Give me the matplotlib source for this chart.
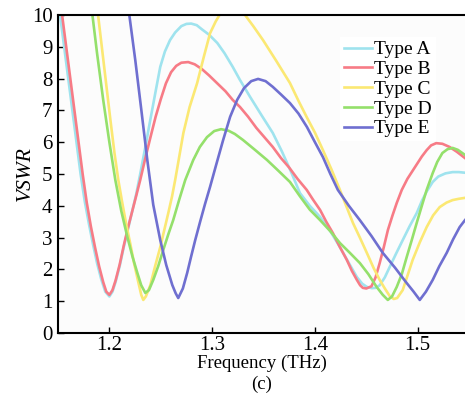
import numpy as np
import matplotlib.pyplot as plt
import matplotlib as mpl

mpl.rcParams['font.family'] = 'Liberation Serif'
mpl.rcParams['mathtext.fontset'] = 'stix'

# VSWR curves for the five antenna types (frequency in THz)
f_a = [1.150, 1.152, 1.156, 1.160, 1.164, 1.168, 1.172, 1.176, 1.180, 1.184, 1.188,
       1.192, 1.196, 1.200, 1.203, 1.206, 1.210, 1.214, 1.218, 1.222, 1.226, 1.230,
       1.235, 1.2398, 1.245, 1.2495, 1.254, 1.259, 1.264, 1.270, 1.275, 1.2796, 1.285,
       1.290, 1.297, 1.305, 1.312, 1.320, 1.327, 1.337, 1.348, 1.359, 1.368, 1.377,
       1.3854, 1.395, 1.405, 1.415, 1.4243, 1.433, 1.4408, 1.446, 1.4505, 1.4553, 1.459,
       1.463, 1.468, 1.4728, 1.479, 1.4854, 1.492, 1.499, 1.504, 1.5087, 1.5146, 1.520,
       1.527, 1.534, 1.540, 1.546]
v_a = [10.6, 10.0, 9.0, 8.0, 7.0, 6.0, 5.0, 4.15, 3.45, 2.8, 2.2,
       1.7, 1.3, 1.15, 1.3, 1.6, 2.1, 2.7, 3.25, 3.8, 4.35, 5.0,
       5.85, 6.7, 7.6, 8.37, 8.85, 9.21, 9.45, 9.65, 9.72, 9.73, 9.68,
       9.55, 9.38, 9.12, 8.8, 8.37, 7.96, 7.42, 6.85, 6.29, 5.7, 5.05,
       4.40, 4.0, 3.65, 3.2, 2.70, 2.2, 1.76, 1.55, 1.45, 1.41, 1.42,
       1.5, 1.75, 2.08, 2.5, 2.92, 3.35, 3.77, 4.15, 4.45, 4.75, 4.92,
       5.02, 5.06, 5.06, 5.04]

f_b = [1.150, 1.154, 1.158, 1.162, 1.166, 1.170, 1.174, 1.178, 1.182, 1.186, 1.190,
       1.194, 1.197, 1.200, 1.203, 1.206, 1.210, 1.214, 1.218, 1.222, 1.226, 1.230,
       1.235, 1.240, 1.245, 1.250, 1.255, 1.260, 1.265, 1.270, 1.2767, 1.283, 1.290,
       1.297, 1.305, 1.313, 1.320, 1.327, 1.335, 1.343, 1.351, 1.359, 1.367, 1.375,
       1.383, 1.392, 1.398, 1.405, 1.411, 1.4175, 1.424, 1.431, 1.436, 1.4408, 1.444,
       1.4466, 1.450, 1.455, 1.459, 1.463, 1.467, 1.471, 1.4755, 1.4796, 1.4845, 1.490,
       1.495, 1.499, 1.504, 1.5087, 1.513, 1.518, 1.524, 1.531, 1.538, 1.546]
v_b = [10.6, 10.0, 9.0, 8.0, 7.0, 6.0, 5.0, 4.1, 3.35, 2.7, 2.1,
       1.6, 1.3, 1.2, 1.35, 1.65, 2.15, 2.75, 3.3, 3.8, 4.3, 4.81,
       5.5, 6.16, 6.8, 7.35, 7.85, 8.2, 8.4, 8.5, 8.52, 8.45, 8.3,
       8.1, 7.85, 7.6, 7.33, 7.11, 6.8, 6.45, 6.15, 5.85, 5.5, 5.2,
       4.85, 4.5, 4.2, 3.87, 3.5, 3.14, 2.72, 2.30, 1.95, 1.67, 1.5,
       1.42, 1.40, 1.47, 1.75, 2.2, 2.7, 3.24, 3.7, 4.09, 4.5, 4.85,
       5.1, 5.3, 5.55, 5.75, 5.9, 5.97, 5.95, 5.85, 5.7, 5.5]

f_c = [1.187, 1.189, 1.193, 1.197, 1.201, 1.205, 1.2087, 1.2125, 1.2165, 1.2204, 1.224,
       1.228, 1.231, 1.233, 1.2355, 1.2398, 1.2445, 1.2495, 1.2535, 1.2573, 1.261, 1.264,
       1.268, 1.272, 1.278, 1.2854, 1.292, 1.298, 1.3035, 1.309, 1.315, 1.320, 1.326,
       1.332, 1.340, 1.3495, 1.3625, 1.3757, 1.384, 1.392, 1.400, 1.4078, 1.416, 1.4243,
       1.431, 1.437, 1.444, 1.4505, 1.457, 1.463, 1.468, 1.473, 1.4767, 1.480, 1.4854,
       1.490, 1.4951, 1.502, 1.5087, 1.515, 1.5214, 1.528, 1.534, 1.540, 1.546]
v_c = [10.6, 10.0, 8.9, 7.8, 6.7, 5.65, 4.81, 4.1, 3.4, 2.8, 2.2,
       1.62, 1.2, 1.04, 1.15, 1.5, 2.1, 2.70, 3.25, 3.77, 4.3, 4.81,
       5.55, 6.29, 7.1, 7.86, 8.7, 9.43, 9.8, 10.1, 10.28, 10.32, 10.25,
       10.0, 9.65, 9.21, 8.55, 7.86, 7.3, 6.79, 6.3, 5.75, 5.15, 4.5,
       3.95, 3.46, 2.98, 2.52, 2.05, 1.67, 1.4, 1.15, 1.07, 1.1, 1.35,
       1.8, 2.3, 2.85, 3.33, 3.7, 3.96, 4.1, 4.18, 4.22, 4.25]

f_d = [1.181, 1.1835, 1.188, 1.194, 1.200, 1.2058, 1.2115, 1.2175, 1.2225, 1.2272, 1.231,
       1.235, 1.2385, 1.2427, 1.2475, 1.2524, 1.2573, 1.2621, 1.268, 1.2738, 1.2816, 1.288,
       1.295, 1.302, 1.3087, 1.316, 1.322, 1.330, 1.342, 1.3534, 1.3645, 1.3757, 1.3854,
       1.395, 1.405, 1.415, 1.4243, 1.434, 1.4437, 1.452, 1.460, 1.466, 1.4709, 1.475,
       1.4796, 1.4845, 1.4893, 1.494, 1.499, 1.504, 1.5087, 1.5146, 1.519, 1.524, 1.529,
       1.534, 1.539, 1.546]
v_d = [10.6, 10.0, 8.8, 7.33, 6.0, 4.81, 3.85, 3.02, 2.4, 1.89, 1.5,
       1.26, 1.35, 1.67, 2.1, 2.61, 3.1, 3.55, 4.2, 4.81, 5.44, 5.85,
       6.16, 6.35, 6.41, 6.36, 6.26, 6.07, 5.75, 5.44, 5.1, 4.75, 4.3,
       3.88, 3.55, 3.2, 2.83, 2.52, 2.2, 1.85, 1.45, 1.2, 1.04, 1.15,
       1.45, 1.85, 2.39, 2.9, 3.46, 4.0, 4.5, 5.03, 5.38, 5.66, 5.78,
       5.82, 5.76, 5.6]

f_e = [1.217, 1.2194, 1.2252, 1.2311, 1.2369, 1.2427, 1.2495, 1.2553, 1.2612, 1.2645,
       1.267, 1.2715, 1.2757, 1.2795, 1.2835, 1.2883, 1.293, 1.298, 1.304, 1.3107, 1.3175,
       1.3243, 1.331, 1.338, 1.3447, 1.352, 1.359, 1.367, 1.3757, 1.384, 1.3922, 1.400,
       1.4078, 1.415, 1.4223, 1.433, 1.4437, 1.455, 1.466, 1.478, 1.4893, 1.496, 1.502,
       1.508, 1.5146, 1.521, 1.5282, 1.5345, 1.5408, 1.546]
v_e = [10.6, 10.0, 8.58, 7.01, 5.44, 4.03, 2.92, 2.14, 1.51, 1.25,
       1.10, 1.4, 1.89, 2.4, 2.92, 3.5, 4.05, 4.6, 5.3, 6.07, 6.8,
       7.33, 7.7, 7.92, 7.99, 7.92, 7.74, 7.5, 7.23, 6.9, 6.48, 6.0,
       5.53, 5.0, 4.5, 4.0, 3.55, 3.05, 2.52, 2.05, 1.57, 1.3, 1.04,
       1.3, 1.67, 2.1, 2.52, 2.95, 3.33, 3.55]

names = ['Type A', 'Type B', 'Type C', 'Type D', 'Type E']
colors = ['#9fe3ee', '#f77b86', '#fbe873', '#94e06b', '#6f6fd0']

fig = plt.figure(figsize=(4.65, 3.99), dpi=100)
ax = fig.add_axes([0.1247, 0.1654, 0.8753, 0.797])
ax.set_facecolor('#fcfcfc')

for f, v, c, n in zip([f_a, f_b, f_c, f_d, f_e], [v_a, v_b, v_c, v_d, v_e], colors, names):
    ax.plot(f, v, color=c, linewidth=1.9, label=n, solid_joinstyle='round')

ax.set_xlim(1.150, 1.546)
ax.set_ylim(0, 10)
ax.set_xticks([1.2, 1.3, 1.4, 1.5])
ax.set_xticklabels(['1.2', '1.3', '1.4', '1.5'])
ax.set_yticks(range(0, 11))
ax.tick_params(direction='in', length=4, width=1, labelsize=15)
ax.tick_params(axis='x', pad=2)
ax.tick_params(axis='y', pad=4)
ax.spines['right'].set_visible(False)
for s in ['left', 'bottom', 'top']:
    ax.spines[s].set_linewidth(1.5)

ax.set_xlabel('Frequency (THz)\n(c)', fontsize=13.5, labelpad=0, linespacing=1.25)
ax.set_ylabel('VSWR', fontsize=15.5, style='italic', labelpad=-2)

leg = ax.legend(loc='upper left', bbox_to_anchor=(0.67, 0.962), fontsize=14,
                frameon=True, facecolor='white', edgecolor='none', framealpha=1,
                fancybox=False, handlelength=1.45, handletextpad=0.1,
                labelspacing=0.11, borderpad=0.2)

plt.savefig('out.png', dpi=100)
